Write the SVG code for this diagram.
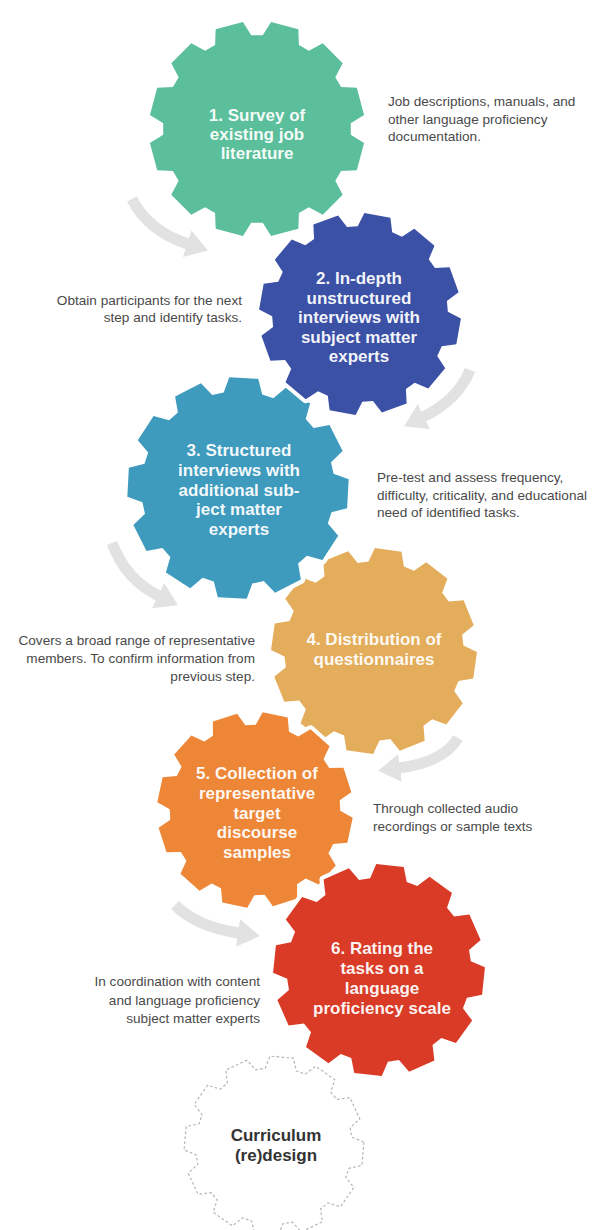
<svg xmlns="http://www.w3.org/2000/svg" xmlns:xlink="http://www.w3.org/1999/xlink" width="592" height="1230" viewBox="0 0 592 1230">
  <style>
    .gear { stroke: #ffffff; stroke-width: 8; stroke-linejoin: round; paint-order: stroke; }
    .g1 { fill: #5cbf9c; }
    .g2 { fill: #3b51a6; }
    .g3 { fill: #3f9bbe; }
    .g4 { fill: #e4ad5b; }
    .g5 { fill: #ed8637; }
    .g6 { fill: #d93b27; }
    .outline { fill: #ffffff; stroke: #b3b3b3; stroke-width: 1.3; stroke-dasharray: 3 2.5; }
    .title { font-family: "Liberation Sans", Arial, sans-serif; font-weight: 700; font-size: 17px; fill: #ffffff; fill-opacity: 0.94; text-anchor: middle; }
    .title.dark { fill: #333333; fill-opacity: 1; }
    .desc { font-family: "Liberation Sans", Arial, sans-serif; font-size: 13.6px; fill: #4a4a4a; }
    .right { text-anchor: end; }
    .flow { fill: none; stroke: #e2e2e2; stroke-width: 11; stroke-linecap: butt; marker-end: url(#head); }
  </style>
  <defs>
    <!-- 12-tooth gear, tip radius 100, root radius 87, centred on the origin -->
    <path id="cog" d="M99.14,-13.05 L99.14,13.05 L85.25,17.35 L82.50,27.61 L92.39,38.27 L79.34,60.88 L65.16,57.65 L57.65,65.16 L60.88,79.34 L38.27,92.39 L27.61,82.50 L17.35,85.25 L13.05,99.14 L-13.05,99.14 L-17.35,85.25 L-27.61,82.50 L-38.27,92.39 L-60.88,79.34 L-57.65,65.16 L-65.16,57.65 L-79.34,60.88 L-92.39,38.27 L-82.50,27.61 L-85.25,17.35 L-99.14,13.05 L-99.14,-13.05 L-85.25,-17.35 L-82.50,-27.61 L-92.39,-38.27 L-79.34,-60.88 L-65.16,-57.65 L-57.65,-65.16 L-60.88,-79.34 L-38.27,-92.39 L-27.61,-82.50 L-17.35,-85.25 L-13.05,-99.14 L13.05,-99.14 L17.35,-85.25 L27.61,-82.50 L38.27,-92.39 L60.88,-79.34 L57.65,-65.16 L65.16,-57.65 L79.34,-60.88 L92.39,-38.27 L82.50,-27.61 L85.25,-17.35 Z"/>
    <marker id="head" markerUnits="userSpaceOnUse" viewBox="0 0 22 28" markerWidth="22" markerHeight="28" refX="1" refY="14" orient="auto">
      <path d="M0,0 L22,14 L0,28 Z" fill="#e2e2e2"/>
    </marker>
  </defs>

  <!-- curved flow arrows between the steps -->
  <g id="connectors">
    <path class="flow" d="M132,199 Q148,231 188,244"/>
    <path class="flow" d="M470,370 Q458,400 423,417"/>
    <path class="flow" d="M112,543 Q126,580 159,596"/>
    <path class="flow" d="M458,738 Q444,762 399,768"/>
    <path class="flow" d="M175,905 Q197,927 239,933"/>
  </g>

  <g id="step1">
    <use xlink:href="#cog" href="#cog" class="gear g1" transform="translate(257,129) scale(1.08) rotate(15)"/>
    <text class="title"><tspan x="257" y="121">1. Survey of</tspan><tspan x="257" y="140">existing job</tspan><tspan x="257" y="159">literature</tspan></text>
    <text class="desc"><tspan x="388" y="106">Job descriptions, manuals, and</tspan><tspan x="388" y="123.5">other language proficiency</tspan><tspan x="388" y="141">documentation.</tspan></text>
  </g>

  <g id="step4">
    <use xlink:href="#cog" href="#cog" class="gear g4" transform="translate(374,651) scale(1.03) rotate(8)"/>
    <text class="title"><tspan x="374" y="645">4. Distribution of</tspan><tspan x="374" y="664.5">questionnaires</tspan></text>
    <text class="desc right"><tspan x="255" y="645">Covers a broad range of representative</tspan><tspan x="255" y="663">members. To confirm information from</tspan><tspan x="255" y="681">previous step.</tspan></text>
  </g>

  <g id="step3">
    <use xlink:href="#cog" href="#cog" class="gear g3" transform="translate(238,488) scale(1.11) rotate(3)"/>
    <text class="title"><tspan x="239" y="456">3. Structured</tspan><tspan x="239" y="475.75">interviews with</tspan><tspan x="239" y="495.5">additional sub-</tspan><tspan x="239" y="515.25">ject matter</tspan><tspan x="239" y="535">experts</tspan></text>
    <text class="desc"><tspan x="377" y="482">Pre-test and assess frequency,</tspan><tspan x="377" y="499.5">difficulty, criticality, and educational</tspan><tspan x="377" y="517">need of identified tasks.</tspan></text>
  </g>

  <g id="step2">
    <use xlink:href="#cog" href="#cog" class="gear g2" transform="translate(360,314) scale(1.01) rotate(10)"/>
    <text class="title"><tspan x="359" y="284">2. In-depth</tspan><tspan x="359" y="303.5">unstructured</tspan><tspan x="359" y="323">interviews with</tspan><tspan x="359" y="342.5">subject matter</tspan><tspan x="359" y="362">experts</tspan></text>
    <text class="desc right"><tspan x="242" y="304.5">Obtain participants for the next</tspan><tspan x="242" y="322">step and identify tasks.</tspan></text>
  </g>

  <g id="step5">
    <use xlink:href="#cog" href="#cog" class="gear g5" transform="translate(255,810) scale(0.98) rotate(12)"/>
    <text class="title"><tspan x="257" y="779">5. Collection of</tspan><tspan x="257" y="798.75">representative</tspan><tspan x="257" y="818.5">target</tspan><tspan x="257" y="838.25">discourse</tspan><tspan x="257" y="858">samples</tspan></text>
    <text class="desc"><tspan x="373" y="813">Through collected audio</tspan><tspan x="373" y="831">recordings or sample texts</tspan></text>
  </g>

  <g id="curriculum">
    <use xlink:href="#cog" href="#cog" class="outline" transform="translate(274,1146) scale(0.9) rotate(5)"/>
    <text class="title dark"><tspan x="276" y="1141">Curriculum</tspan><tspan x="276" y="1161">(re)design</tspan></text>
  </g>

  <g id="step6">
    <use xlink:href="#cog" href="#cog" class="gear g6" transform="translate(379,970) scale(1.06) rotate(6)"/>
    <text class="title"><tspan x="382" y="953.5">6. Rating the</tspan><tspan x="382" y="973.5">tasks on a</tspan><tspan x="382" y="993.5">language</tspan><tspan x="382" y="1013.5">proficiency scale</tspan></text>
    <text class="desc right"><tspan x="260" y="986">In coordination with content</tspan><tspan x="260" y="1004.5">and language proficiency</tspan><tspan x="260" y="1023">subject matter experts</tspan></text>
  </g>
</svg>
